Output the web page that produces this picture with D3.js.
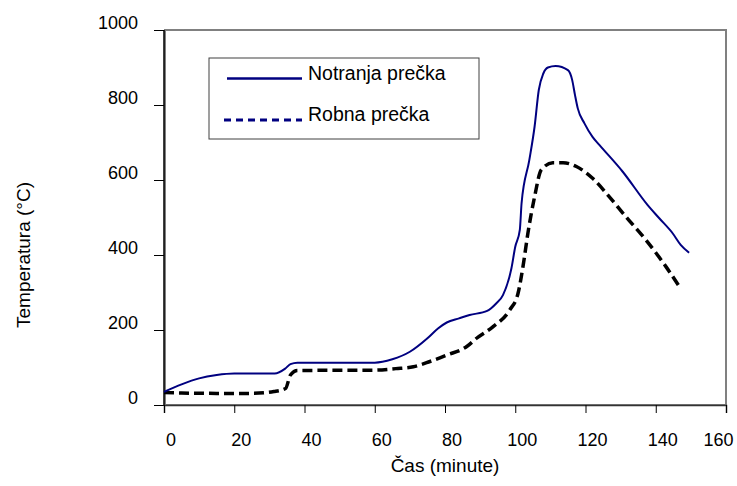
<!DOCTYPE html>
<html>
<head>
<meta charset="utf-8">
<script src="https://cdn.jsdelivr.net/npm/d3@7"></script>
<style>
  body { margin: 0; background: #fff; }
  text { font-family: Arial, "Liberation Sans", sans-serif; fill: #000; }
</style>
</head>
<body>
<div id="chart"></div>
<script>
// series
const timeInner = [0, 5, 10, 15, 20, 31.5, 34.5, 36, 38, 60, 65, 70, 75, 78, 80.5, 84, 87, 92, 94.5, 96.5, 98.9, 100, 101.3, 101.8, 104, 105.5, 106.7, 108, 109.3, 111.5, 115, 116.2, 117, 117.8, 119.7, 122, 124, 130.6, 137.7, 141, 144.8, 147.1, 149.5];
const tempInner = [35, 55, 71, 80, 84, 84, 97, 109, 113, 113, 122, 142, 178, 204, 220, 231, 240, 251, 270, 293, 364, 422, 467, 538, 653, 742, 840, 884, 900, 904, 893, 867, 827, 791, 751, 715, 693, 622, 533, 498, 458, 427, 406];
const timeEdge = [0, 5, 15, 25, 31.3, 34.6, 36, 38, 60, 66, 71, 75.7, 80.5, 86.2, 89, 93.7, 98.4, 100.8, 102.2, 103.6, 105.5, 107.4, 110.7, 113.6, 117.4, 122.1, 126.8, 131.5, 137.2, 142.9, 146.7];
const tempEdge = [33, 32, 31, 31, 36, 44, 80, 92, 93, 97, 102, 116, 133, 156, 178, 209, 253, 298, 369, 458, 555, 627, 646, 646, 636, 604, 555, 502, 440, 369, 316];

const seriesNames = ['Notranja prečka', 'Robna prečka'];
const xTicks = [0, 20, 40, 60, 80, 100, 120, 140, 160];
const yTicks = [0, 200, 400, 600, 800, 1000];
const xTitle = 'Čas (minute)';
const yTitle = 'Temperatura (°C)';

const W = 737, H = 486;
const margin = { top: 30, right: 11, bottom: 81, left: 164 };
const width = W - margin.left - margin.right;
const height = H - margin.top - margin.bottom;

const svg = d3.select('#chart').append('svg')
  .attr('width', W)
  .attr('height', H);

const g = svg.append('g')
  .attr('transform', `translate(${margin.left},${margin.top})`);

const x = d3.scaleLinear().domain([0, 160]).range([0, width]);
const y = d3.scaleLinear().domain([0, 1000]).range([height, 0]);

// plot area frame
g.append('rect')
  .attr('x', 1).attr('y', 0)
  .attr('width', width - 1).attr('height', height)
  .attr('fill', 'none')
  .attr('stroke', '#808080')
  .attr('stroke-width', 2);

// y axis
const yAxis = g.append('g')
  .call(d3.axisLeft(y).tickValues(yTicks).tickSize(10).tickFormat(d3.format('d')));
yAxis.select('.domain').attr('stroke', '#000').attr('stroke-width', 1.5).attr('d', `M0,${height + 1}V0`);
yAxis.selectAll('.tick line').attr('stroke', '#000');
yAxis.selectAll('.tick text')
  .attr('x', -26).attr('dy', '-0.1em')
  .style('font-size', '18px');

// x axis
const xAxis = g.append('g')
  .attr('transform', `translate(0,${height})`)
  .call(d3.axisBottom(x).tickValues(xTicks).tickSize(8).tickFormat(d3.format('d')));
xAxis.select('.domain').attr('stroke', '#333').attr('stroke-width', 1.5);
xAxis.selectAll('.tick text')
  .attr('y', 28).attr('dy', '0.71em')
  .attr('x', d => d === 160 ? -8 : 6.5)
  .style('font-size', '18px');
xAxis.selectAll('.tick line').attr('stroke', '#000');

// axis titles
svg.append('text')
  .attr('x', 445).attr('y', 467)
  .attr('text-anchor', 'middle').attr('dominant-baseline', 'middle')
  .style('font-size', '19px')
  .text(xTitle);

svg.append('text')
  .attr('transform', 'translate(25,255) rotate(-90)')
  .attr('text-anchor', 'middle').attr('dominant-baseline', 'middle')
  .style('font-size', '19px')
  .text(yTitle);

// lines
const line = d3.line()
  .x(d => x(d[0]))
  .y(d => y(d[1]))
  .curve(d3.curveMonotoneX);

const inner = timeInner.map((t, i) => [t, tempInner[i]]);
const edge = timeEdge.map((t, i) => [t, tempEdge[i]]);

g.append('path')
  .datum(edge)
  .attr('d', line)
  .attr('fill', 'none')
  .attr('stroke', '#000')
  .attr('stroke-width', 3.5)
  .attr('stroke-dasharray', '10,5');

g.append('path')
  .datum(inner)
  .attr('d', line)
  .attr('fill', 'none')
  .attr('stroke', '#000080')
  .attr('stroke-width', 2);

// legend
const legend = svg.append('g').attr('transform', 'translate(209,58)');
legend.append('rect')
  .attr('width', 270).attr('height', 81)
  .attr('fill', '#fff')
  .attr('stroke', '#404040')
  .attr('stroke-width', 1);

const legendRows = [
  { name: seriesNames[0], dash: null, y: 20.5 },
  { name: seriesNames[1], dash: '7,5', y: 62 }
];
legendRows.forEach(r => {
  legend.append('line')
    .attr('x1', r.dash ? 15 : 18).attr('x2', 93)
    .attr('y1', r.y).attr('y2', r.y)
    .attr('stroke', '#000080')
    .attr('stroke-width', r.dash ? 3 : 2.5)
    .attr('stroke-dasharray', r.dash);
  legend.append('text')
    .attr('x', 99).attr('y', r.y - 4)
    .attr('dominant-baseline', 'middle')
    .style('font-size', '19.5px')
    .text(r.name);
});
</script>
</body>
</html>
